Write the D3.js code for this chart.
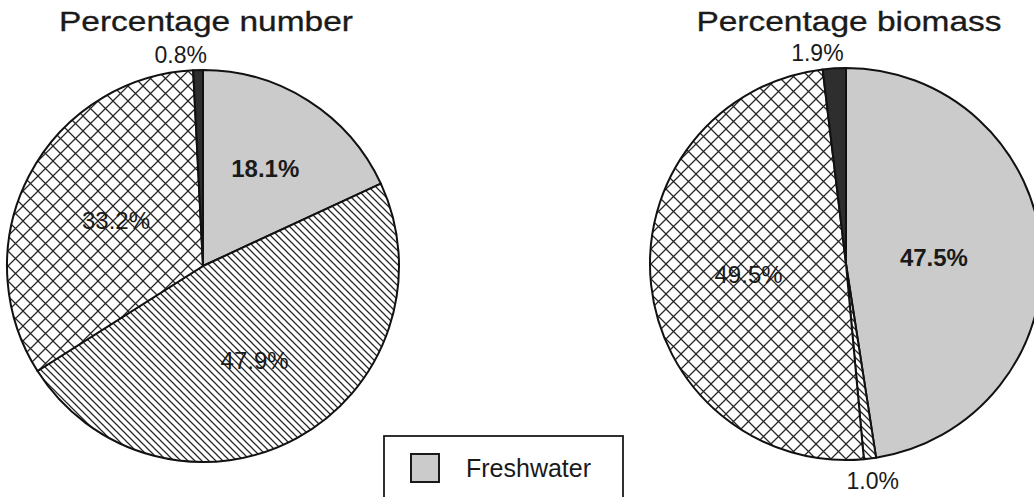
<!DOCTYPE html>
<html>
<head>
<meta charset="utf-8">
<script src="https://cdn.jsdelivr.net/npm/d3@7"></script>
<style>
  html, body { margin: 0; padding: 0; background: #fff; }
  svg { display: block; font-family: "Liberation Sans", Arial, Helvetica, sans-serif; }
</style>
</head>
<body>
<svg id="chart" width="1034" height="497"></svg>
<script>
// Share of each group, by count and by biomass (clockwise from 12 o'clock)
const categories = ["Freshwater", "Group B", "Group C", "Group D"];
const numberPct  = [18.1, 47.9, 33.2, 0.8];
const biomassPct = [47.5, 1.0, 49.5, 1.9];
const chartTitles = ["Percentage number", "Percentage biomass"];
const legendLabels = ["Freshwater"];

const svg = d3.select("#chart");
const defs = svg.append("defs");

// Fill styles per category: grey, single diagonal hatch, cross-hatch, solid dark
const ink = "#262626";
defs.append("pattern")
  .attr("id", "hatch").attr("patternUnits", "userSpaceOnUse")
  .attr("width", 7).attr("height", 7)
  .call(p => {
    p.append("rect").attr("width", 7).attr("height", 7).attr("fill", "#fff");
    p.append("path").attr("d", "M-1,-1 L8,8 M-8,-1 L1,8 M6,-1 L15,8")
      .attr("stroke", ink).attr("stroke-width", 1.25);
  });
defs.append("pattern")
  .attr("id", "cross").attr("patternUnits", "userSpaceOnUse")
  .attr("width", 15).attr("height", 15)
  .call(p => {
    p.append("rect").attr("width", 15).attr("height", 15).attr("fill", "#fff");
    p.append("path").attr("d", "M0,0 L15,15 M15,0 L0,15 M-1,14 L1,16 M14,-1 L16,1 M-1,1 L1,-1 M14,16 L16,14")
      .attr("stroke", ink).attr("stroke-width", 1.25);
  });

const fills = d3.scaleOrdinal()
  .domain(categories)
  .range(["#cbcbcb", "url(#hatch)", "url(#cross)", "#2e2e2e"]);

const pie = d3.pie().sort(null).value(d => d.value);

const charts = [
  { title: chartTitles[0], values: numberPct,  cx: 203, cy: 266, r: 196,
    inner: [0.59, 0.55, 0.50, null], bold: [true, false, false, false],
    outer: [null, null, null, { rOff: 15, dx: -17 }] },
  { title: chartTitles[1], values: biomassPct, cx: 846, cy: 264, r: 196,
    inner: [0.45, null, 0.50, null], bold: [true, false, false, false],
    outer: [null, { rOff: 23, dx: 0 }, null, { rOff: 15, dx: -16 }] }
];

const fmt = v => d3.format(".1f")(v) + "%";

charts.forEach(c => {
  const data = c.values.map((v, i) => ({ key: categories[i], value: v }));
  const arcs = pie(data);
  const arc = d3.arc().innerRadius(0).outerRadius(c.r);
  const g = svg.append("g").attr("transform", `translate(${c.cx},${c.cy})`);

  g.selectAll("path.slice").data(arcs).join("path")
    .attr("class", "slice")
    .attr("d", arc)
    .attr("fill", d => fills(d.data.key))
    .attr("stroke", "#111")
    .attr("stroke-width", 2)
    .attr("stroke-linejoin", "round");

  // labels inside the larger slices
  arcs.forEach((a, i) => {
    const f = c.inner[i];
    if (f == null) return;
    const [x, y] = d3.arc().innerRadius(c.r * f).outerRadius(c.r * f).centroid(a);
    g.append("text")
      .attr("x", x).attr("y", y).attr("dy", "0.35em")
      .attr("text-anchor", "middle")
      .attr("font-size", 24)
      .attr("font-weight", c.bold[i] ? "bold" : "normal")
      .attr("fill", "#1a1a1a")
      .text(fmt(a.data.value));
  });

  // labels outside the thin slices
  arcs.forEach((a, i) => {
    const o = c.outer[i];
    if (!o) return;
    const rr = c.r + o.rOff;
    const [x, y] = d3.arc().innerRadius(rr).outerRadius(rr).centroid(a);
    g.append("text")
      .attr("x", x + o.dx).attr("y", y).attr("dy", "0.35em")
      .attr("text-anchor", "middle")
      .attr("font-size", 23)
      .attr("fill", "#1a1a1a")
      .text(fmt(a.data.value));
  });

  // title, set in a wide face
  svg.append("g")
    .attr("transform", `translate(${c.cx + 3},31) scale(1.24,1)`)
    .append("text")
    .attr("text-anchor", "middle")
    .attr("font-size", 27)
    .attr("fill", "#1a1a1a")
    .attr("stroke", "#1a1a1a")
    .attr("stroke-width", 0.3)
    .text(c.title);
});

// legend box (continues below the bottom edge)
const lg = svg.append("g").attr("transform", "translate(384,436)");
lg.append("rect").attr("width", 239).attr("height", 120)
  .attr("fill", "#fff").attr("stroke", "#1a1a1a").attr("stroke-width", 1.8);
legendLabels.forEach((lab, i) => {
  const row = lg.append("g").attr("transform", `translate(27,${18 + i * 40})`);
  row.append("rect").attr("width", 28).attr("height", 28)
    .attr("fill", fills(lab)).attr("stroke", "#1a1a1a").attr("stroke-width", 2);
  row.append("text").attr("x", 55).attr("y", 14).attr("dy", "0.35em")
    .attr("font-size", 25).attr("fill", "#1a1a1a").text(lab);
});
</script>
</body>
</html>
